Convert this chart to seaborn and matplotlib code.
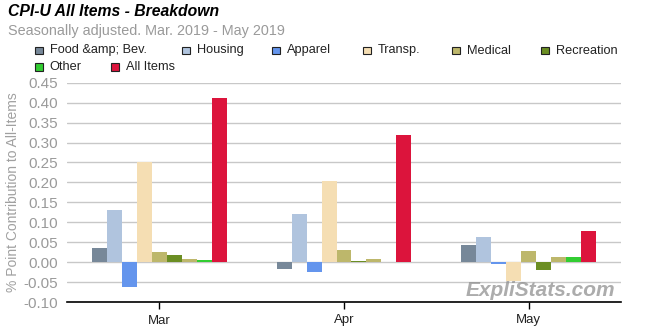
import matplotlib
matplotlib.use("Agg")
import matplotlib.pyplot as plt
import seaborn as sns
import pandas as pd
from matplotlib.patches import Rectangle

months = ["Mar", "Apr", "May"]
series = ["Food &amp; Bev.", "Housing", "Apparel", "Transp.", "Medical",
          "Recreation", "Educ. &amp; Comm.", "Other", "All Items"]
legend_series = ["Food &amp; Bev.", "Housing", "Apparel", "Transp.", "Medical",
                 "Recreation", "Other", "All Items"]
colors = ["#778899", "#B0C4DE", "#6495ED", "#F5DEB3", "#BDB76B",
          "#6B8E23", "#BDB76B", "#32CD32", "#DC143C"]

food = [0.036, -0.017, 0.042]
housing = [0.131, 0.121, 0.062]
apparel = [-0.062, -0.024, -0.004]
transp = [0.251, 0.204, -0.047]
medical = [0.026, 0.031, 0.027]
recreation = [0.019, 0.004, -0.019]
educ = [0.008, 0.007, 0.012]
other = [0.006, 0.001, 0.012]
all_items = [0.411, 0.319, 0.079]

values = [food, housing, apparel, transp, medical, recreation, educ, other, all_items]
yticks = [-0.10, -0.05, 0.00, 0.05, 0.10, 0.15, 0.20, 0.25, 0.30, 0.35, 0.40, 0.45]

rows = []
for s, vals in zip(series, values):
    for m, v in zip(months, vals):
        rows.append({"Month": m, "Series": s, "Value": v})
df = pd.DataFrame(rows)

sns.set_theme(style="white")
FONT = ["Liberation Sans", "DejaVu Sans"]
plt.rcParams["font.family"] = FONT

fig = plt.figure(figsize=(6.5, 3.3), dpi=100)
ax = fig.add_axes([67 / 650, 1 - 302 / 330, (621 - 67) / 650, (302 - 82.7) / 330])

sns.barplot(data=df, x="Month", y="Value", hue="Series", order=months,
            hue_order=series, palette=colors, width=0.73, ax=ax,
            saturation=1, legend=False, errorbar=None, linewidth=0)

ax.set_xlim(-0.5, 2.5)
ax.set_ylim(-0.10, 0.45)
ax.set_yticks(yticks)
ax.set_yticklabels([f"{t:.2f}" for t in yticks])
ax.yaxis.grid(True, color="#c8c8c8", linewidth=1)
ax.set_axisbelow(True)
for side in ["left", "right", "top"]:
    ax.spines[side].set_visible(False)
ax.spines["bottom"].set_color("black")
ax.spines["bottom"].set_linewidth(1.2)
ax.tick_params(axis="y", length=5, width=1, color="#555555", labelcolor="#9a9a9a",
               labelsize=11, pad=1.5)
ax.tick_params(axis="x", length=5, width=1, color="black", labelcolor="#222222",
               labelsize=9.5, pad=4, bottom=True)
ax.set_xlabel("")
ax.set_ylabel("% Point Contribution to All-Items", color="#a0a0a0", fontsize=10, labelpad=3)
ax.yaxis.set_label_coords(-47 / 554, 0.5)

fig.text(8 / 650, 1 - 12 / 330, "CPI-U All Items - Breakdown", fontsize=11.3,
         fontweight="bold", fontstyle="italic", color="black", va="center", ha="left")
fig.text(8 / 650, 1 - 31 / 330, "Seasonally adjusted. Mar. 2019 - May 2019", fontsize=10.4,
         color="#9a9a9a", va="center", ha="left")

# legend laid out as in the reference (flowing rows)
leg_pos = [(35, 50.5), (182, 50.5), (272, 50.5), (363, 50.5), (452, 50.5), (541, 50.5),
           (35, 66.7), (111, 66.7)]
for name, (px, py) in zip(legend_series, leg_pos):
    col = colors[series.index(name)]
    fig.patches.append(Rectangle((px / 650, 1 - (py + 3.8) / 330), 8 / 650, 7.6 / 330,
                                 transform=fig.transFigure, facecolor=col,
                                 edgecolor="#222222", linewidth=0.8))
    fig.text((px + 14.6) / 650, 1 - py / 330, name, fontsize=9.2, color="#222222",
             va="center", ha="left")

fig.text(615 / 650, 1 - 290 / 330, "ExpliStats.com", fontsize=15, fontweight="bold",
         fontstyle="italic", color="#909090", alpha=0.75, ha="right", va="center")

fig.savefig("out.png", dpi=100)
